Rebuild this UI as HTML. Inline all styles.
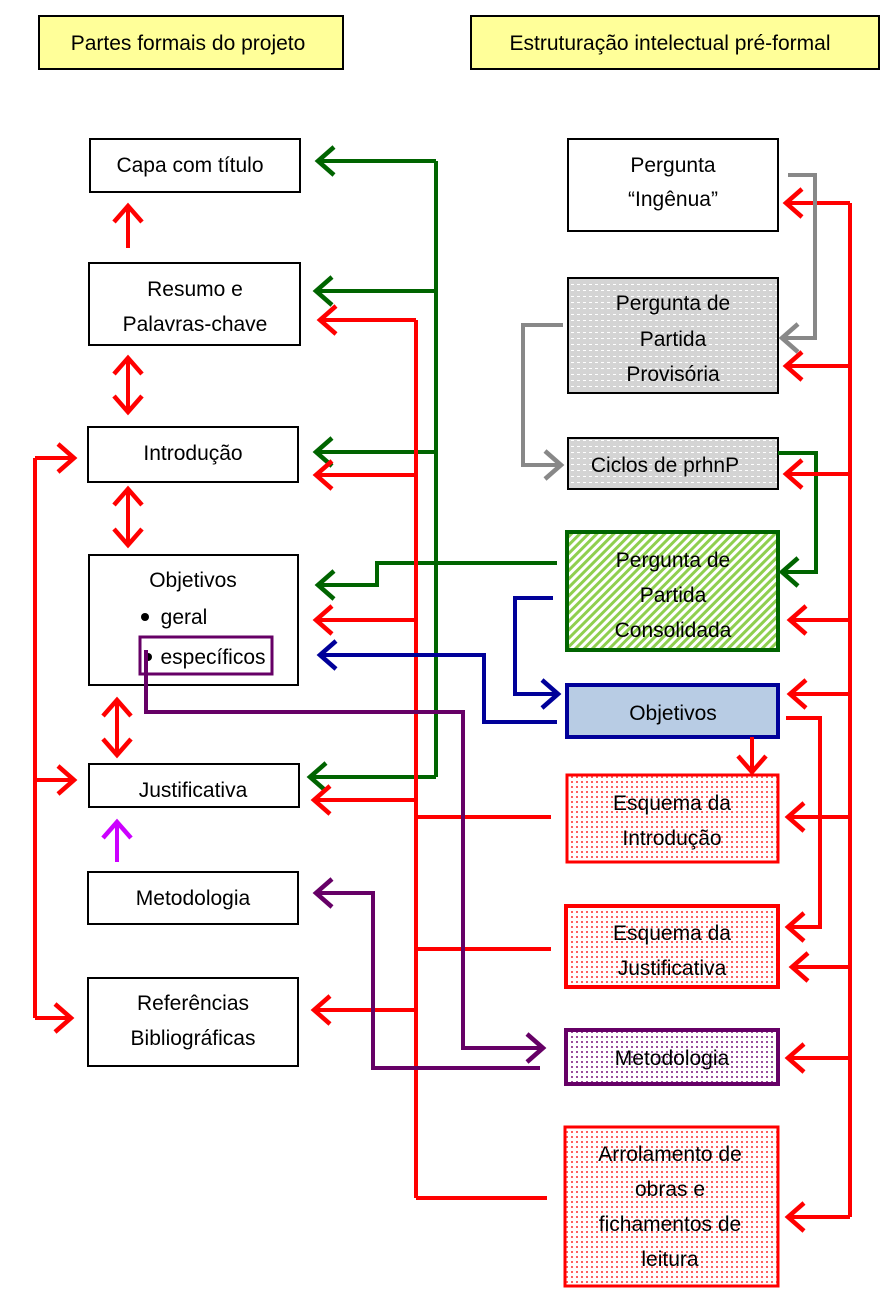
<!DOCTYPE html>
<html><head><meta charset="utf-8"><style>
body{margin:0;background:#fff}
svg{display:block}
text{font-family:"Liberation Sans",sans-serif;font-size:21px;fill:#000;text-anchor:middle}
</style></head><body>
<svg width="889" height="1297" viewBox="0 0 889 1297" xmlns="http://www.w3.org/2000/svg">
<defs>
<marker id="ar" markerUnits="userSpaceOnUse" markerWidth="30" markerHeight="34" refX="20" refY="17" orient="auto" viewBox="0 0 30 34"><path d="M4 3 L20 17 L4 31" fill="none" stroke="#ff0000" stroke-width="4.5"/></marker>
<marker id="ag" markerUnits="userSpaceOnUse" markerWidth="30" markerHeight="34" refX="20" refY="17" orient="auto" viewBox="0 0 30 34"><path d="M4 3 L20 17 L4 31" fill="none" stroke="#006400" stroke-width="4.5"/></marker>
<marker id="ab" markerUnits="userSpaceOnUse" markerWidth="30" markerHeight="34" refX="20" refY="17" orient="auto" viewBox="0 0 30 34"><path d="M4 3 L20 17 L4 31" fill="none" stroke="#000099" stroke-width="4.5"/></marker>
<marker id="ap" markerUnits="userSpaceOnUse" markerWidth="30" markerHeight="34" refX="20" refY="17" orient="auto" viewBox="0 0 30 34"><path d="M4 3 L20 17 L4 31" fill="none" stroke="#660066" stroke-width="4.5"/></marker>
<marker id="ay" markerUnits="userSpaceOnUse" markerWidth="30" markerHeight="34" refX="20" refY="17" orient="auto" viewBox="0 0 30 34"><path d="M4 3 L20 17 L4 31" fill="none" stroke="#888" stroke-width="4.5"/></marker>
<marker id="am" markerUnits="userSpaceOnUse" markerWidth="30" markerHeight="34" refX="20" refY="17" orient="auto" viewBox="0 0 30 34"><path d="M4 3 L20 17 L4 31" fill="none" stroke="#cc00ff" stroke-width="4.5"/></marker>
<pattern id="pg" width="6" height="6" patternUnits="userSpaceOnUse"><rect width="6" height="6" fill="#d4d4d4"/><rect x="1" y="2" width="3" height="1" fill="#fff"/></pattern>
<pattern id="pgr" width="6" height="6" patternUnits="userSpaceOnUse" patternTransform="rotate(45)"><rect width="6" height="6" fill="#fff"/><rect width="3" height="6" fill="#8fcf4f"/></pattern>
<pattern id="pr" width="5" height="5" patternUnits="userSpaceOnUse"><rect width="5" height="5" fill="#fff"/><rect x="1" y="1" width="2" height="2" fill="#ff6060"/></pattern>
<pattern id="pp" width="5" height="5" patternUnits="userSpaceOnUse"><rect width="5" height="5" fill="#fff"/><rect x="1" y="1" width="2" height="2" fill="#9a4d9a"/></pattern>
</defs>

<rect x="39" y="16" width="304" height="53" fill="#ffff99" stroke="#000" stroke-width="2"/>
<text x="188" y="50">Partes formais do projeto</text>
<rect x="471" y="16" width="408" height="53" fill="#ffff99" stroke="#000" stroke-width="2"/>
<text x="670" y="50">Estruturação intelectual pré-formal</text>

<g fill="#fff" stroke="#000" stroke-width="2">
<rect x="90" y="139" width="210" height="53"/>
<rect x="89" y="263" width="211" height="82"/>
<rect x="88" y="427" width="210" height="55"/>
<rect x="89" y="555" width="209" height="130"/>
<rect x="89" y="764" width="210" height="43"/>
<rect x="88" y="872" width="210" height="52"/>
<rect x="88" y="978" width="210" height="88"/>
</g>
<text x="190" y="172">Capa com título</text>
<text x="195" y="296">Resumo e</text>
<text x="195" y="331">Palavras-chave</text>
<text x="193" y="460">Introdução</text>
<text x="193" y="587">Objetivos</text>
<circle cx="145" cy="617" r="4" fill="#000"/>
<text x="184" y="624">geral</text>
<circle cx="148" cy="657" r="4" fill="#000"/>
<text x="213" y="664">específicos</text>
<rect x="140" y="637" width="132" height="37" fill="none" stroke="#660066" stroke-width="3"/>
<text x="193" y="797">Justificativa</text>
<text x="193" y="905">Metodologia</text>
<text x="193" y="1010">Referências</text>
<text x="193" y="1045">Bibliográficas</text>

<rect x="568" y="139" width="210" height="92" fill="#fff" stroke="#000" stroke-width="2"/>
<text x="673" y="172">Pergunta</text>
<text x="673" y="206">“Ingênua”</text>
<rect x="568" y="278" width="210" height="115" fill="url(#pg)" stroke="#000" stroke-width="2"/>
<text x="673" y="310">Pergunta de</text>
<text x="673" y="346">Partida</text>
<text x="673" y="381">Provisória</text>
<rect x="568" y="438" width="210" height="51" fill="url(#pg)" stroke="#000" stroke-width="2"/>
<text x="665" y="472">Ciclos de prhnP</text>
<rect x="567" y="532" width="211" height="118" fill="url(#pgr)" stroke="#006400" stroke-width="4"/>
<text x="673" y="567">Pergunta de</text>
<text x="673" y="602">Partida</text>
<text x="673" y="637">Consolidada</text>
<rect x="567" y="685" width="211" height="52" fill="#b8cce4" stroke="#000099" stroke-width="4"/>
<text x="673" y="720">Objetivos</text>
<rect x="567" y="775" width="211" height="87" fill="url(#pr)" stroke="#ff0000" stroke-width="3"/>
<text x="672" y="810">Esquema da</text>
<text x="672" y="845">Introdução</text>
<rect x="566" y="906" width="212" height="81" fill="url(#pr)" stroke="#ff0000" stroke-width="4"/>
<text x="672" y="940">Esquema da</text>
<text x="672" y="975">Justificativa</text>
<rect x="566" y="1030" width="212" height="54" fill="url(#pp)" stroke="#660066" stroke-width="4"/>
<text x="672" y="1065">Metodologia</text>
<rect x="565" y="1127" width="213" height="159" fill="url(#pr)" stroke="#ff0000" stroke-width="3"/>
<text x="670" y="1161">Arrolamento de</text>
<text x="670" y="1196">obras e</text>
<text x="670" y="1231">fichamentos de</text>
<text x="670" y="1266">leitura</text>

<g fill="none" stroke-width="4">
<g stroke="#006400">
<path d="M436 161 V777"/>
<path d="M436 161 H318" marker-end="url(#ag)"/>
<path d="M436 291 H316" marker-end="url(#ag)"/>
<path d="M436 452 H316" marker-end="url(#ag)"/>
<path d="M436 777 H310" marker-end="url(#ag)"/>
<path d="M557 563 H377 V585 H318" marker-end="url(#ag)"/>
<path d="M778 453 H816 V572 H782" marker-end="url(#ag)"/>
</g>
<g stroke="#ff0000">
<path d="M850 203 V1217"/>
<path d="M850 203 H786" marker-end="url(#ar)"/>
<path d="M850 366 H786" marker-end="url(#ar)"/>
<path d="M850 474 H786" marker-end="url(#ar)"/>
<path d="M850 620 H790" marker-end="url(#ar)"/>
<path d="M850 694 H790" marker-end="url(#ar)"/>
<path d="M850 817 H788" marker-end="url(#ar)"/>
<path d="M850 967 H792" marker-end="url(#ar)"/>
<path d="M850 1058 H788" marker-end="url(#ar)"/>
<path d="M850 1217 H788" marker-end="url(#ar)"/>
<path d="M786 718 H820 V927 H788" marker-end="url(#ar)"/>
<path d="M752 737 V772" marker-end="url(#ar)"/>
<path d="M416 320 V1198"/>
<path d="M416 320 H320" marker-end="url(#ar)"/>
<path d="M416 475 H316" marker-end="url(#ar)"/>
<path d="M416 620 H316" marker-end="url(#ar)"/>
<path d="M416 800 H314" marker-end="url(#ar)"/>
<path d="M416 1010 H314" marker-end="url(#ar)"/>
<path d="M416 817 H551"/>
<path d="M416 949 H551"/>
<path d="M416 1198 H547"/>
<path d="M35 458 V1018"/>
<path d="M35 458 H74" marker-end="url(#ar)"/>
<path d="M35 780 H74" marker-end="url(#ar)"/>
<path d="M35 1018 H71" marker-end="url(#ar)"/>
<path d="M128 248 V206" marker-end="url(#ar)"/>
<path d="M128 384 V412" marker-end="url(#ar)"/>
<path d="M128 384 V358" marker-end="url(#ar)"/>
<path d="M128 517 V545" marker-end="url(#ar)"/>
<path d="M128 517 V489" marker-end="url(#ar)"/>
<path d="M117 728 V755" marker-end="url(#ar)"/>
<path d="M117 728 V700" marker-end="url(#ar)"/>
</g>
<path d="M117 862 V822" stroke="#cc00ff" marker-end="url(#am)"/>
<g stroke="#000099">
<path d="M557 722 H484 V655 H320" marker-end="url(#ab)"/>
<path d="M553 598 H515 V694 H558" marker-end="url(#ab)"/>
</g>
<g stroke="#660066">
<path d="M146 650 V712 H463 V1048 H543" marker-end="url(#ap)"/>
<path d="M540 1068 H373 V893 H316" marker-end="url(#ap)"/>
</g>
<g stroke="#888">
<path d="M788 175 H815 V338 H782" marker-end="url(#ay)"/>
<path d="M563 325 H523 V465 H561" marker-end="url(#ay)"/>
</g>
</g>
</svg>
</body></html>
